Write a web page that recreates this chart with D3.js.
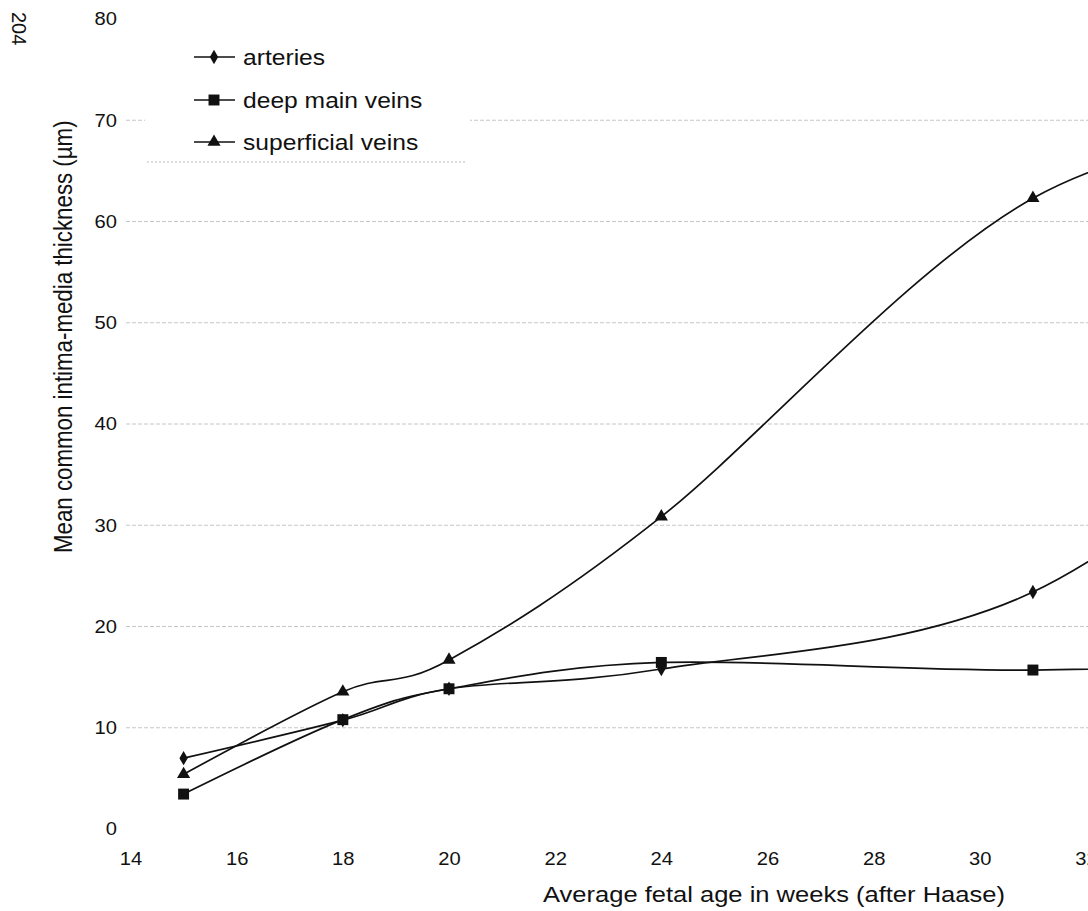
<!DOCTYPE html>
<html>
<head>
<meta charset="utf-8">
<script src="https://cdn.jsdelivr.net/npm/d3@7"></script>
<style>
  html, body { margin: 0; padding: 0; background: #fff; }
  svg { display: block; }
  text { font-family: "Liberation Sans", Arial, sans-serif; fill: #111; }
</style>
</head>
<body>
<svg id="chart" width="1088" height="911"></svg>
<script>
// ---- data (last point lies beyond the cropped right edge) ----
const weeks = [15, 18, 20, 24, 31, 38];
const arteries = [7.0, 10.75, 13.85, 15.8, 23.4, 50];
const deepMainVeins = [3.45, 10.8, 13.85, 16.45, 15.7, 17];
const superficialVeins = [5.4, 13.55, 16.7, 30.85, 62.3, 72];
const xTicks = [14, 16, 18, 20, 22, 24, 26, 28, 30, 32];
const yTicks = [0, 10, 20, 30, 40, 50, 60, 70, 80];
const gridValues = [10, 20, 30, 40, 50, 60, 70];
const seriesNames = ["arteries", "deep main veins", "superficial veins"];
const seriesSymbols = ["diamond", "square", "triangle"];
const xTitle = "Average fetal age in weeks (after Haase)";
const yTitle = "Mean common intima-media thickness (\u00b5m)";
const pageMark = "204";

const series = [arteries, deepMainVeins, superficialVeins];
const SX = 1.12; // horizontal stretch of the scanned figure

const svg = d3.select("#chart");
const x = d3.scaleLinear().domain([14, 32]).range([130.5, 1086]);
const y = d3.scaleLinear().domain([0, 80]).range([829, 19]);

// gridlines
svg.append("g").selectAll("line").data(gridValues).join("line")
  .attr("x1", 126).attr("x2", 1088)
  .attr("y1", d => y(d)).attr("y2", d => y(d))
  .attr("stroke", "#c6c6c6").attr("stroke-width", 1)
  .attr("stroke-dasharray", "4,2");

// y axis labels
const yAxis = svg.append("g").attr("transform", "translate(117,0)")
  .call(d3.axisLeft(y).tickValues(yTicks).tickSize(0).tickPadding(0).tickFormat(d3.format("d")));
yAxis.select(".domain").remove();
yAxis.selectAll("text").attr("font-size", 18).attr("fill", "#111")
  .attr("font-family", "Liberation Sans, Arial, sans-serif")
  .attr("transform", `scale(${SX},1)`);

// x axis labels
const xAxis = svg.append("g").attr("transform", "translate(0,852)")
  .call(d3.axisBottom(x).tickValues(xTicks).tickSize(0).tickPadding(0).tickFormat(d3.format("d")));
xAxis.select(".domain").remove();
xAxis.selectAll("text").attr("font-size", 18).attr("fill", "#111")
  .attr("font-family", "Liberation Sans, Arial, sans-serif")
  .attr("transform", `scale(${SX},1)`);

// axis titles
svg.append("text")
  .attr("transform", `translate(543,902) scale(${SX},1)`)
  .attr("font-size", 22.8).text(xTitle);
svg.append("text")
  .attr("transform", `translate(72,553) scale(${SX},1) rotate(-90)`)
  .attr("font-size", 22.3).text(yTitle);

// page mark bleeding through the scan
svg.append("text")
  .attr("transform", "translate(12,12) rotate(90)")
  .attr("font-family", "Liberation Serif, serif")
  .attr("font-size", 20).attr("fill", "#333").text(pageMark);

// lines
const line = d3.line().curve(d3.curveCardinal.tension(0))
  .x((d, i) => x(weeks[i])).y(d => y(d));
const symType = { diamond: d3.symbolDiamond, square: d3.symbolSquare, triangle: d3.symbolTriangle };
const symSize = { diamond: 60, square: 120, triangle: 75 };

series.forEach((vals, si) => {
  svg.append("path").datum(vals)
    .attr("d", line).attr("fill", "none")
    .attr("stroke", "#111").attr("stroke-width", 1.7);
});
series.forEach((vals, si) => {
  const s = seriesSymbols[si];
  svg.append("g").selectAll("path").data(vals).join("path")
    .attr("transform", (d, i) => `translate(${x(weeks[i])},${y(d)})`)
    .attr("d", d3.symbol().type(symType[s]).size(symSize[s]))
    .attr("fill", "#111");
});

// legend
const lg = svg.append("g");
lg.append("rect").attr("x", 145).attr("y", 28).attr("width", 325).attr("height", 134)
  .attr("fill", "#fff");
lg.append("line").attr("x1", 147).attr("x2", 467).attr("y1", 162).attr("y2", 162)
  .attr("stroke", "#bbb").attr("stroke-dasharray", "2,2");
const legY = [57, 100, 142];
seriesNames.forEach((name, i) => {
  const s = seriesSymbols[i];
  lg.append("line").attr("x1", 194).attr("x2", 235).attr("y1", legY[i]).attr("y2", legY[i])
    .attr("stroke", "#111").attr("stroke-width", 1.7);
  lg.append("path").attr("transform", `translate(214,${legY[i]})`)
    .attr("d", d3.symbol().type(symType[s]).size(symSize[s])).attr("fill", "#111");
  lg.append("text").attr("transform", `translate(243,${legY[i] + 8}) scale(${SX},1)`)
    .attr("font-size", 22).text(name);
});
</script>
</body>
</html>
